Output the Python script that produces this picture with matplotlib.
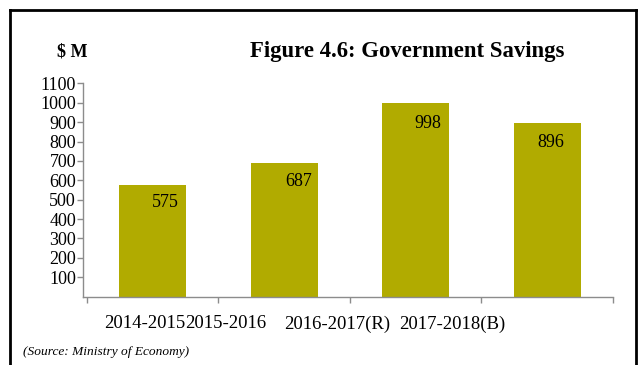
import matplotlib
matplotlib.use("Agg")
import matplotlib.pyplot as plt
from matplotlib.lines import Line2D

plt.rcParams["font.family"] = ["Liberation Serif", "DejaVu Serif"]

# Government savings, $ million
YEARS = ["2014-2015", "2015-2016", "2016-2017(R)", "2017-2018(B)"]
SAVINGS = [575, 687, 998, 896]
Y_TICKS = [100, 200, 300, 400, 500, 600, 700, 800, 900, 1000, 1100]

BAR = "#b1ab00"
AXIS = "#8c8c8c"
W, H, DPI = 641, 365, 100

fig = plt.figure(figsize=(W / DPI, H / DPI), dpi=DPI, facecolor="white")
ax = fig.add_axes([83 / W, (H - 296.5) / H, 530 / W, 213 / H])

xs = list(range(len(SAVINGS)))
ax.bar(xs, SAVINGS, width=0.51, color=BAR, zorder=2)

# value labels sit inside the bar, a little right of centre
label_dx = [13, 14, 12, 4]
label_dy = [-17, -18, -20, -19]
for x, v, dx, dy in zip(xs, SAVINGS, label_dx, label_dy):
    ax.annotate(f"{v}", xy=(x, v), xytext=(dx, dy), textcoords="offset pixels",
                ha="center", va="center", fontsize=13, color="black", zorder=3)

ax.set_xlim(-0.53, 3.5)
ax.set_ylim(0, 1100)

for s in ("top", "right"):
    ax.spines[s].set_visible(False)
for s in ("left", "bottom"):
    ax.spines[s].set_color(AXIS)
    ax.spines[s].set_linewidth(1.0)

ax.set_yticks(Y_TICKS)
ax.set_yticklabels([str(t) for t in Y_TICKS], fontsize=13)
ax.tick_params(axis="y", length=4, width=1, color=AXIS, pad=1)

# category boundaries get the tick marks, the year labels float below them
ax.set_xticks([-0.5, 0.5, 1.5, 2.5, 3.5], minor=True)
ax.tick_params(axis="x", which="minor", length=4, width=1, color=AXIS, direction="out")
ax.set_xticks([-0.06, 0.553, 1.405, 2.277])
ax.set_xticklabels(YEARS, fontsize=13.5)
ax.tick_params(axis="x", which="major", length=0, pad=13.5)

fig.text(72 / W, 1 - 52 / H, "$ M", ha="center", va="center",
         fontsize=13, fontweight="bold")
fig.text(407 / W, 1 - 52 / H, "Figure 4.6: Government Savings", ha="center",
         va="center", fontsize=16.4, fontweight="bold")
fig.text(23 / W, 1 - 352 / H, "(Source: Ministry of Economy)", ha="left",
         va="center", fontsize=9.6, style="italic")

# frame around the figure
frame = dict(color="black", linewidth=2.0, transform=fig.transFigure)
fig.add_artist(Line2D([10 / W, 636 / W], [1 - 10 / H, 1 - 10 / H], **frame))
fig.add_artist(Line2D([10 / W, 10 / W], [1 - 10 / H, 0], **frame))
fig.add_artist(Line2D([636 / W, 636 / W], [1 - 10 / H, 0], **frame))

fig.savefig("out.png", dpi=DPI, facecolor="white")
